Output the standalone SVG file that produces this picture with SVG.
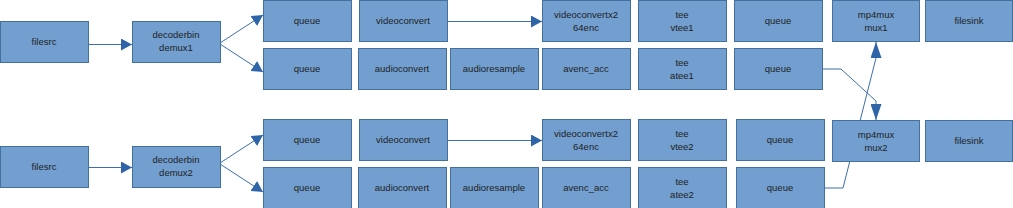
<svg xmlns="http://www.w3.org/2000/svg" width="1013" height="208" viewBox="0 0 1013 208">
<style>
.n{fill:#729fcf;stroke:#41719c;stroke-width:1}
.t{font-family:"Liberation Sans",Arial,sans-serif;font-size:9.5px;fill:#1e1e1e;text-anchor:middle}
.c{fill:none;stroke:#3e6fae;stroke-width:1}
</style>
<defs>
<marker id="a" viewBox="0 0 10 10" refX="10" refY="5" markerWidth="11" markerHeight="12" markerUnits="userSpaceOnUse" orient="auto" preserveAspectRatio="none">
<path d="M0,0L10,5L0,10z" fill="#2f64a8"/>
</marker>
<marker id="b" viewBox="0 0 10 10" refX="10" refY="5" markerWidth="16" markerHeight="11" markerUnits="userSpaceOnUse" orient="auto" preserveAspectRatio="none">
<path d="M0,0L10,5L0,10z" fill="#2f64a8"/>
</marker>
</defs>
<g id="connectors">
<path class="c" d="M88.5,44.5H132" marker-end="url(#a)"/>
<path class="c" d="M220,43L263,15" marker-end="url(#a)"/>
<path class="c" d="M220,44L263,72" marker-end="url(#a)"/>
<path class="c" d="M447,21.5H542" marker-end="url(#a)"/>
<path class="c" d="M88.5,167.5H132" marker-end="url(#a)"/>
<path class="c" d="M220,163L263,135" marker-end="url(#a)"/>
<path class="c" d="M220,164L263,192" marker-end="url(#a)"/>
<path class="c" d="M447,140.5H542" marker-end="url(#a)"/>
<path class="c" d="M823,69H841L876,101V120" marker-end="url(#b)"/>
<path class="c" d="M824,188H843L876,58V42" marker-end="url(#b)"/>
</g>
<g id="filesrc1"><rect class="n" x="0.5" y="21.5" width="88" height="41"/><text class="t" x="44" y="45">filesrc</text></g>
<g id="demux1"><rect class="n" x="132.5" y="21.5" width="88" height="41"/><text class="t" x="176" y="38">decoderbin</text><text class="t" x="176" y="51">demux1</text></g>
<g id="queue_v1"><rect class="n" x="263.5" y="0.5" width="88" height="41"/><text class="t" x="307" y="24">queue</text></g>
<g id="videoconvert1"><rect class="n" x="359.5" y="0.5" width="88" height="41"/><text class="t" x="403" y="24">videoconvert</text></g>
<g id="x264enc1"><rect class="n" x="542.5" y="0.5" width="88" height="41"/><text class="t" x="586" y="18">videoconvertx2</text><text class="t" x="586" y="31">64enc</text></g>
<g id="vtee1"><rect class="n" x="638.5" y="0.5" width="88" height="41"/><text class="t" x="682" y="18">tee</text><text class="t" x="682" y="31">vtee1</text></g>
<g id="queue_v1b"><rect class="n" x="734.5" y="0.5" width="88" height="41"/><text class="t" x="778" y="24">queue</text></g>
<g id="mux1"><rect class="n" x="832.5" y="0.5" width="87" height="41"/><text class="t" x="876" y="18">mp4mux</text><text class="t" x="876" y="31">mux1</text></g>
<g id="filesink1"><rect class="n" x="925.5" y="0.5" width="87" height="41"/><text class="t" x="969" y="24">filesink</text></g>
<g id="queue_a1"><rect class="n" x="263.5" y="48.5" width="88" height="41"/><text class="t" x="307" y="72">queue</text></g>
<g id="audioconvert1"><rect class="n" x="358.5" y="48.5" width="88" height="41"/><text class="t" x="402" y="72">audioconvert</text></g>
<g id="audioresample1"><rect class="n" x="450.5" y="48.5" width="88" height="41"/><text class="t" x="494" y="72">audioresample</text></g>
<g id="avenc1"><rect class="n" x="542.5" y="48.5" width="88" height="41"/><text class="t" x="586" y="72">avenc_acc</text></g>
<g id="atee1"><rect class="n" x="638.5" y="48.5" width="88" height="41"/><text class="t" x="682" y="66">tee</text><text class="t" x="682" y="79">atee1</text></g>
<g id="queue_a1b"><rect class="n" x="734.5" y="48.5" width="88" height="41"/><text class="t" x="778" y="72">queue</text></g>
<g id="filesrc2"><rect class="n" x="0.5" y="146.5" width="88" height="41"/><text class="t" x="44" y="170">filesrc</text></g>
<g id="demux2"><rect class="n" x="132.5" y="146.5" width="88" height="41"/><text class="t" x="176" y="163">decoderbin</text><text class="t" x="176" y="176">demux2</text></g>
<g id="queue_v2"><rect class="n" x="263.5" y="119.5" width="88" height="41"/><text class="t" x="307" y="143">queue</text></g>
<g id="videoconvert2"><rect class="n" x="359.5" y="119.5" width="88" height="41"/><text class="t" x="403" y="143">videoconvert</text></g>
<g id="x264enc2"><rect class="n" x="542.5" y="119.5" width="88" height="41"/><text class="t" x="586" y="137">videoconvertx2</text><text class="t" x="586" y="150">64enc</text></g>
<g id="vtee2"><rect class="n" x="638.5" y="119.5" width="88" height="41"/><text class="t" x="682" y="137">tee</text><text class="t" x="682" y="150">vtee2</text></g>
<g id="queue_v2b"><rect class="n" x="736.5" y="119.5" width="88" height="41"/><text class="t" x="780" y="143">queue</text></g>
<g id="mux2"><rect class="n" x="832.5" y="120.5" width="87" height="41"/><text class="t" x="876" y="138">mp4mux</text><text class="t" x="876" y="151">mux2</text></g>
<g id="filesink2"><rect class="n" x="925.5" y="120.5" width="87" height="41"/><text class="t" x="969" y="144">filesink</text></g>
<g id="queue_a2"><rect class="n" x="263.5" y="167.5" width="88" height="41"/><text class="t" x="307" y="191">queue</text></g>
<g id="audioconvert2"><rect class="n" x="358.5" y="167.5" width="88" height="41"/><text class="t" x="402" y="191">audioconvert</text></g>
<g id="audioresample2"><rect class="n" x="450.5" y="167.5" width="88" height="41"/><text class="t" x="494" y="191">audioresample</text></g>
<g id="avenc2"><rect class="n" x="542.5" y="167.5" width="88" height="41"/><text class="t" x="586" y="191">avenc_acc</text></g>
<g id="atee2"><rect class="n" x="638.5" y="167.5" width="88" height="41"/><text class="t" x="682" y="185">tee</text><text class="t" x="682" y="198">atee2</text></g>
<g id="queue_a2b"><rect class="n" x="736.5" y="167.5" width="88" height="41"/><text class="t" x="780" y="191">queue</text></g>
</svg>
